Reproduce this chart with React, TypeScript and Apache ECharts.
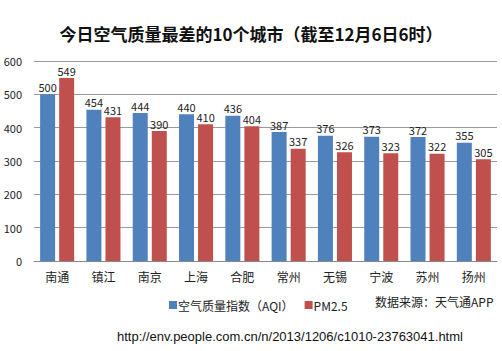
import React, { useEffect, useRef } from "react";
import * as echarts from "echarts";

const cities = ["南通", "镇江", "南京", "上海", "合肥", "常州", "无锡", "宁波", "苏州", "扬州"];
const aqi = [500, 454, 444, 440, 436, 387, 376, 373, 372, 355];
const pm25 = [549, 431, 390, 410, 404, 337, 326, 323, 322, 305];
const yTicks = [0, 100, 200, 300, 400, 500, 600];
const titleText = "今日空气质量最差的10个城市（截至12月6日6时）";
const seriesNames = ["空气质量指数（AQI）", "PM2.5"];
const sourceText = "数据来源：天气通APP";
const urlText = "http://env.people.com.cn/n/2013/1206/c1010-23763041.html";

const FONT = "'Noto Sans CJK SC', 'Noto Sans', sans-serif";

export default function App() {
  const ref = useRef<HTMLDivElement>(null);
  useEffect(() => {
    const chart = echarts.init(ref.current!, null, { renderer: "svg" });
    const label = {
      show: true,
      position: "top" as const,
      distance: 2,
      color: "#222",
      fontSize: 11,
      fontFamily: FONT,
    };
    chart.setOption({
      animation: false,
      backgroundColor: "#fff",
      title: {
        text: titleText,
        left: "center",
        top: 20,
        textStyle: { fontSize: 17, fontWeight: "bold", color: "#111", fontFamily: FONT },
      },
      grid: { left: 34, right: 5, top: 61, bottom: 90, containLabel: false },
      legend: {
        left: 164,
        top: 294,
        icon: "rect",
        itemWidth: 8,
        itemHeight: 8,
        itemGap: 11,
        textStyle: { fontSize: 12, color: "#222", fontFamily: FONT, padding: [0, 0, 0, -4] },
        data: seriesNames,
      },
      xAxis: {
        type: "category",
        data: cities,
        axisLine: { lineStyle: { color: "#888", width: 1 } },
        axisTick: { show: false },
        axisLabel: { color: "#222", fontSize: 12, margin: 9, fontFamily: FONT },
      },
      yAxis: {
        type: "value",
        min: yTicks[0],
        max: yTicks[yTicks.length - 1],
        interval: 100,
        axisLine: { show: false },
        axisTick: { show: false },
        axisLabel: { color: "#222", fontSize: 11, margin: 12, fontFamily: FONT },
        splitLine: { lineStyle: { color: "#9a9a9a", width: 1 } },
      },
      series: [
        {
          name: seriesNames[0],
          type: "bar",
          data: aqi,
          barWidth: 15,
          barGap: "27%",
          itemStyle: { color: "#4F81BD" },
          label,
        },
        {
          name: seriesNames[1],
          type: "bar",
          data: pm25,
          barWidth: 15,
          itemStyle: { color: "#C0504D" },
          label,
        },
      ],
      graphic: [
        {
          type: "text",
          left: 375,
          top: 295,
          style: { text: sourceText, fontSize: 12, fill: "#222", fontFamily: FONT },
        },
        {
          type: "text",
          left: 117,
          top: 330,
          style: { text: urlText, fontSize: 13, fill: "#111", fontFamily: "'Liberation Sans', Arial, sans-serif" },
        },
      ],
    });
    return () => chart.dispose();
  }, []);
  return (
    <div
      ref={ref}
      style={{ position: "fixed", left: 0, top: 0, width: 502, height: 351 }}
    />
  );
}
